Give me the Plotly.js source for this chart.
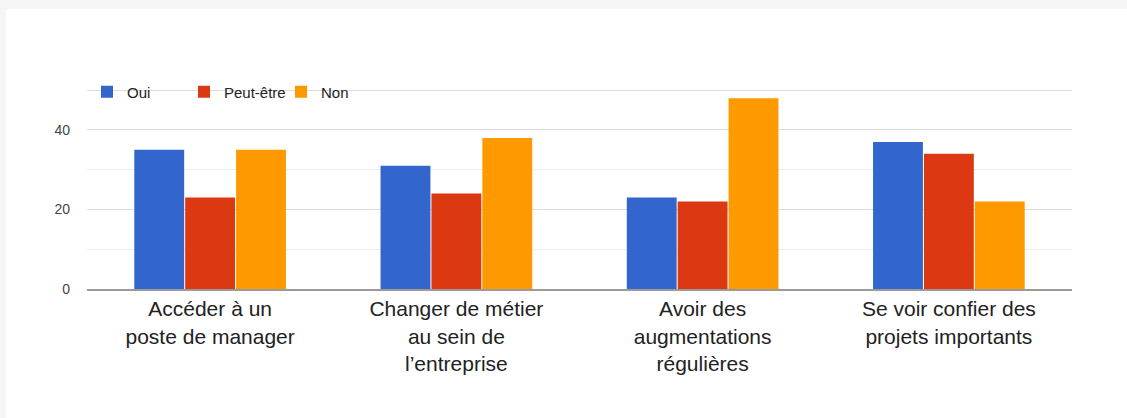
<!DOCTYPE html>
<html>
<head>
<meta charset="utf-8">
<script src="https://cdn.plot.ly/plotly-3.0.1.min.js"></script>
<style>
  html, body { margin: 0; padding: 0; background: #f4f5f7; width: 1127px; height: 418px; overflow: hidden; }
  #chart { position: absolute; left: 6px; top: 9px; width: 1121px; height: 409px; background: #ffffff; }
</style>
</head>
<body>
<div id="chart"></div>
<script>
const categories = [
  "Accéder à un<br>poste de manager",
  "Changer de métier<br>au sein de<br>l’entreprise",
  "Avoir des<br>augmentations<br>régulières",
  "Se voir confier des<br>projets importants"
];
const seriesNames = ["Oui", "Peut-être", "Non"];
const oui = [35, 31, 23, 37];
const peutEtre = [23, 24, 22, 34];
const non = [35, 38, 48, 22];
const colors = ["#3366cc", "#dc3912", "#ff9900"];
const yTickVals = [0, 20, 40, 50];
const yTickText = ["0", "20", "40", ""];

const values = [oui, peutEtre, non];
const traces = values.map((v, i) => ({
  type: "bar",
  name: seriesNames[i],
  x: categories,
  y: v,
  marker: { color: colors[i] },
  hoverinfo: "x+y+name"
}));

const layout = {
  width: 1121,
  height: 409,
  paper_bgcolor: "#ffffff",
  plot_bgcolor: "#ffffff",
  margin: { l: 81, r: 55, t: 80, b: 129, pad: 0 },
  barmode: "group",
  bargap: 0.38,
  bargroupgap: 0.02,
  font: { family: "Liberation Sans, Arial, sans-serif", color: "#222222" },
  showlegend: true,
  legend: {
    orientation: "h",
    x: 0.0, xanchor: "left",
    y: 0.985, yanchor: "middle",
    font: { size: 15, color: "#222222" },
    bgcolor: "rgba(0,0,0,0)",
    entrywidth: 52,
    entrywidthmode: "pixels",
    itemwidth: 30,
    traceorder: "normal"
  },
  xaxis: {
    showgrid: false,
    showline: true,
    linecolor: "#9a9a9a",
    linewidth: 2,
    ticks: "",
    tickfont: { size: 21, color: "#222222" },
    fixedrange: true
  },
  yaxis: {
    range: [0, 50.3],
    tickvals: yTickVals,
    ticktext: yTickText,
    showgrid: true,
    gridcolor: "#dcdcdc",
    gridwidth: 1,
    zeroline: false,
    ticks: "",
    ticklabelstandoff: 16,
    tickfont: { size: 14, color: "#444444" },
    minor: { dtick: 10, showgrid: true, gridcolor: "#ededed", gridwidth: 1 },
    fixedrange: true
  }
};

Plotly.newPlot("chart", traces, layout, { displayModeBar: false, staticPlot: false });
</script>
</body>
</html>
